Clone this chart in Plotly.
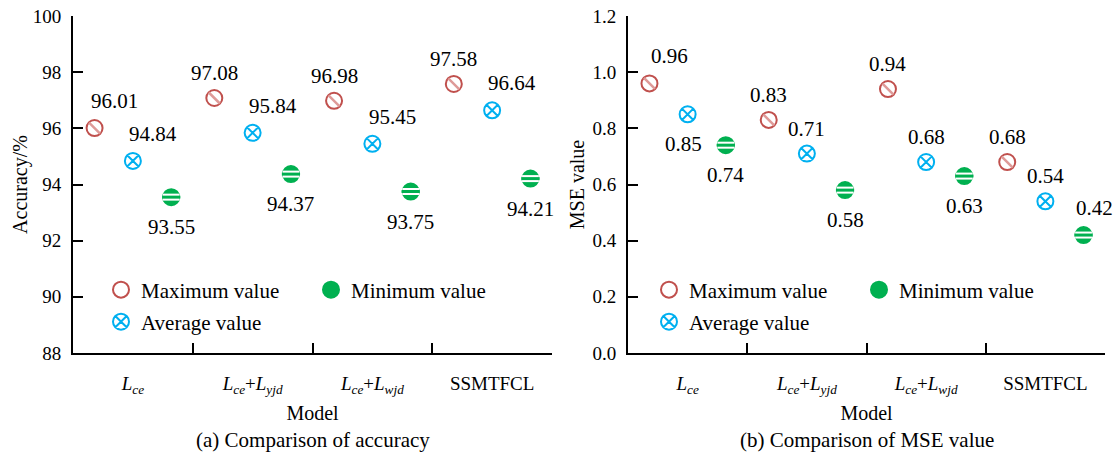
import plotly.graph_objects as go
from plotly.subplots import make_subplots

# ---------------- data ----------------
models = [
    "<i>L</i><sub><i>ce</i></sub>",
    "<i>L</i><sub><i>ce</i></sub>+<i>L</i><sub><i>yjd</i></sub>",
    "<i>L</i><sub><i>ce</i></sub>+<i>L</i><sub><i>wjd</i></sub>",
    "SSMTFCL",
]
acc_max = [96.01, 97.08, 96.98, 97.58]
acc_avg = [94.84, 95.84, 95.45, 96.64]
acc_min = [93.55, 94.37, 93.75, 94.21]
mse_max = [0.96, 0.83, 0.94, 0.68]
mse_avg = [0.85, 0.71, 0.68, 0.54]
mse_min = [0.74, 0.58, 0.63, 0.42]

# label placement styles: (xshift, yshift) in px from the marker
STY = {"t": (0, 25), "tr": (20, 27), "tre": (11, 27), "b": (0, -30), "bl": (-4, -30)}
acc_pos = {
    "max": ["tr", "t", "t", "t"],
    "avg": ["tr", "tr", "tr", "tr"],
    "min": ["b", "b", "b", "b"],
}
mse_pos = {
    "max": ["tr", "t", "t", "t"],
    "avg": ["bl", "t", "t", "t"],
    "min": ["b", "b", "b", "tre"],
}

FONT = "Liberation Serif, Times New Roman, serif"
RED, RED_L = "#C0504D", "#DE9A98"
BLUE = "#00B0F0"
GREEN = "#00B050"
SIZE = 16
GAP = 0.04
KEYS = ["max", "avg", "min"]
FS = 21

fig = make_subplots(rows=1, cols=2, horizontal_spacing=0.0)
annotations = []


def add_panel(col, vmax, vavg, vmin, pos, leg_row1, leg_row2):
    xref = "x" if col == 1 else "x2"
    yref = "y" if col == 1 else "y2"
    series = [
        ("max", "Maximum value", vmax, leg_row1),
        ("avg", "Average value", vavg, leg_row2),
        ("min", "Minimum value", vmin, leg_row1),
    ]
    slot = (1 - GAP) / len(KEYS)
    for k, (key, name, vals, leg) in enumerate(series):
        if key == "max":
            marker = dict(symbol="circle-open", size=SIZE, color=RED, line=dict(width=2, color=RED))
        elif key == "avg":
            marker = dict(symbol="circle-x-open", size=SIZE, color=BLUE, line=dict(width=2, color=BLUE))
        else:
            marker = dict(symbol="circle", size=SIZE, color=GREEN, line=dict(width=2, color=GREEN))
        fig.add_trace(
            go.Scatter(x=models, y=vals, name=name, mode="markers", marker=marker,
                       offsetgroup=key, legend=leg, cliponaxis=False),
            row=1, col=col,
        )
        # data labels anchored to the same data point (category index + group offset)
        for i, v in enumerate(vals):
            dx, dy = STY[pos[key][i]]
            annotations.append(dict(
                x=i + (k - 1) * slot, y=v, xref=xref, yref=yref,
                text=f"{v:.2f}", showarrow=False, xanchor="center", yanchor="middle",
                xshift=dx, yshift=dy, font=dict(family=FONT, size=FS, color="black"),
            ))
    # texture overlays
    overlays = [
        ("max", vmax, dict(symbol="line-nw-open", size=11, color=RED_L, line=dict(width=2.5, color=RED_L))),
        ("min", vmin, dict(symbol="line-ew-open", size=12, color="white", line=dict(width=7, color="white"))),
        ("min", vmin, dict(symbol="line-ew-open", size=13, color=GREEN, line=dict(width=3, color=GREEN))),
    ]
    for key, vals, mk in overlays:
        fig.add_trace(
            go.Scatter(x=models, y=vals, mode="markers", marker=mk, offsetgroup=key,
                       showlegend=False, hoverinfo="skip", cliponaxis=False),
            row=1, col=col,
        )


add_panel(1, acc_max, acc_avg, acc_min, acc_pos, "legend", "legend2")
add_panel(2, mse_max, mse_avg, mse_min, mse_pos, "legend3", "legend4")

W, H = 1119, 456
L, R, T, B = 73, 14, 16, 103
pw = W - L - R
ph = H - T - B

axis_common = dict(
    showline=True, linecolor="black", linewidth=2, mirror=False,
    ticks="inside", ticklen=10, tickwidth=2, tickcolor="black",
    showgrid=False, zeroline=False, automargin=False,
    tickfont=dict(family=FONT, size=19, color="black"),
)

fig.update_xaxes(
    **axis_common, type="category", tickson="boundaries", ticklabelstandoff=12,
    range=[-0.5, 3.5],
    title=dict(text="Model", font=dict(family=FONT, size=20, color="black"), standoff=10),
)
fig.update_xaxes(domain=[0, (552 - L) / pw], row=1, col=1)
fig.update_xaxes(domain=[(628 - L) / pw, 1], row=1, col=2)

fig.update_yaxes(**axis_common, ticklabelstandoff=6)
fig.update_yaxes(range=[88, 100], dtick=2, row=1, col=1,
                 title=dict(text="Accuracy/%", font=dict(family=FONT, size=20, color="black"), standoff=0))
fig.update_yaxes(range=[0, 1.2], dtick=0.2, tickformat=".1f", row=1, col=2,
                 title=dict(text="MSE value", font=dict(family=FONT, size=20, color="black"), standoff=2))

leg_common = dict(
    orientation="h", bgcolor="rgba(0,0,0,0)", font=dict(family=FONT, size=FS, color="black"),
    xref="paper", yref="paper", xanchor="left", yanchor="middle",
    entrywidth=165, entrywidthmode="pixels", itemwidth=30, tracegroupgap=0,
)


def lx(px):
    return (px - L) / pw


def ly(py):
    return (H - B - py) / ph


annotations += [
    dict(text="(a) Comparison of accuracy", xref="x domain", yref="paper", x=0.5, y=0,
         yshift=-(440 - 353), xanchor="center", yanchor="middle", showarrow=False,
         font=dict(family=FONT, size=FS, color="black")),
    dict(text="(b) Comparison of MSE value", xref="x2 domain", yref="paper", x=0.5, y=0,
         yshift=-(440 - 353), xanchor="center", yanchor="middle", showarrow=False,
         font=dict(family=FONT, size=FS, color="black")),
]

fig.update_layout(
    width=W, height=H,
    margin=dict(l=L, r=R, t=T, b=B, autoexpand=False),
    plot_bgcolor="white", paper_bgcolor="white",
    font=dict(family=FONT, size=20, color="black"),
    scattermode="group", scattergap=GAP,
    legend=dict(**leg_common, x=lx(101), y=ly(290)),
    legend2=dict(**leg_common, x=lx(101), y=ly(322)),
    legend3=dict(**leg_common, x=lx(649), y=ly(290)),
    legend4=dict(**leg_common, x=lx(649), y=ly(322)),
    annotations=annotations,
)

fig.write_html("out.html")
